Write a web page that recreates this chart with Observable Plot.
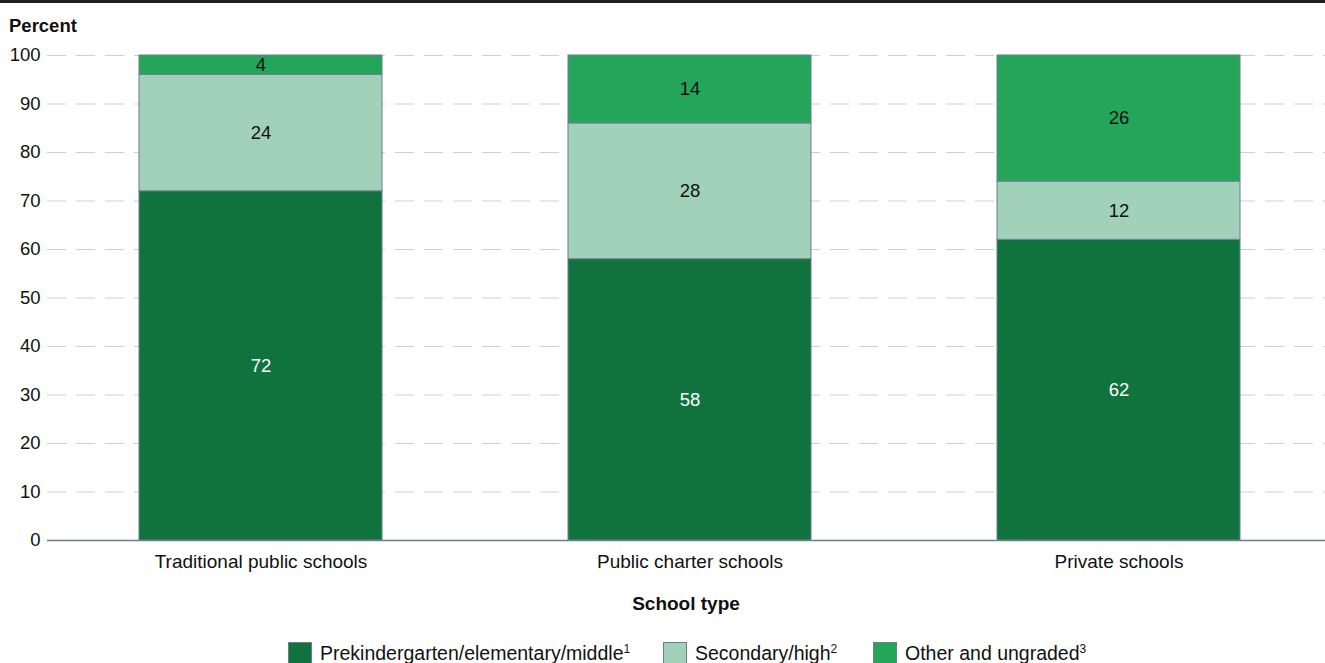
<!DOCTYPE html>
<html>
<head>
<meta charset="utf-8">
<script src="https://cdn.jsdelivr.net/npm/d3@7"></script>
<script src="https://cdn.jsdelivr.net/npm/@observablehq/plot@0.6"></script>
<style>
  body { margin: 0; background: #fff; font-family: "Liberation Sans", Arial, sans-serif; color: #111; }
  #wrap { position: relative; width: 1325px; height: 663px; overflow: hidden; }
  #topbar { position: absolute; left: 0; top: 0; width: 1325px; height: 3px; background: #231f20; }
  #ylabel { position: absolute; left: 9px; top: 15px; font-size: 18.5px; font-weight: bold; }
  #chart { position: absolute; left: 0; top: 0; }
  #xlabel { position: absolute; left: 47px; width: 1278px; top: 593px; text-align: center; font-size: 19px; font-weight: bold; }
  .item { position: absolute; top: 642px; display: flex; align-items: flex-start; font-size: 19.5px; line-height: 22px; }
  .sw { width: 24px; height: 22px; border: 1px solid #6b7f90; margin-right: 8px; box-sizing: border-box; }
  sup { font-size: 12px; vertical-align: 7px; line-height: 0; }
</style>
</head>
<body>
<div id="wrap">
  <div id="topbar"></div>
  <div id="ylabel">Percent</div>
  <div id="chart"></div>
  <div id="xlabel">School type</div>
</div>
<script>
const schoolTypes = ["Traditional public schools", "Public charter schools", "Private schools"];
const levels = ["Prekindergarten/elementary/middle", "Secondary/high", "Other and ungraded"];
const levelNotes = ["1", "2", "3"];
const levelColors = ["#10733e", "#a1d2b9", "#25a55a"];
const prekValues = [72, 58, 62];
const secondaryValues = [24, 28, 12];
const otherValues = [4, 14, 26];
const yTicks = [0, 10, 20, 30, 40, 50, 60, 70, 80, 90, 100];

const seriesValues = [prekValues, secondaryValues, otherValues];
const rows = [];
schoolTypes.forEach((t, i) => {
  let acc = 0;
  levels.forEach((lv, j) => {
    const v = seriesValues[j][i];
    rows.push({type: t, level: lv, value: v, y1: acc, y2: acc + v, mid: acc + v / 2});
    acc += v;
  });
});

const slate = "#6b7f90";
const plot = Plot.plot({
  width: 1325,
  height: 625,
  marginTop: 55,
  marginBottom: 85,
  marginLeft: 47,
  marginRight: 0,
  style: {fontFamily: "'Liberation Sans', Arial, sans-serif", fontSize: "18.5px", color: "#111", background: "transparent"},
  x: {domain: schoolTypes, range: [50.5, 1328.5], paddingInner: 0.434, paddingOuter: 0.206, label: null},
  y: {domain: [0, 100], label: null},
  color: {domain: levels, range: levelColors},
  marks: [
    Plot.ruleY(yTicks.filter(d => d > 0), {stroke: "#cfcfcf", strokeWidth: 1, strokeDasharray: "19,10"}),
    Plot.barY(rows, {x: "type", y1: "y1", y2: "y2", fill: "level", stroke: slate, strokeWidth: 1, inset: 0}),
    Plot.text(rows.filter(d => d.level === levels[0]), {x: "type", y: "mid", text: d => String(d.value), fill: "white", fontSize: 18.5}),
    Plot.text(rows.filter(d => d.level !== levels[0]), {x: "type", y: "mid", text: d => String(d.value), fill: "#111", fontSize: 18.5}),
    Plot.ruleY([0], {stroke: slate, strokeWidth: 1.5}),
    Plot.axisY({ticks: yTicks, tickSize: 0, tickPadding: 7, line: true, stroke: slate, fill: "#111", label: null, fontSize: 18.5}),
    Plot.axisX({tickSize: 0, tickPadding: 14, label: null, fill: "#111", fontSize: 19})
  ]
});
document.getElementById("chart").appendChild(plot);

const legendLefts = [288, 663, 873];
const wrap = document.getElementById("wrap");
levels.forEach((lv, i) => {
  const item = document.createElement("div");
  item.className = "item";
  item.style.left = legendLefts[i] + "px";
  const sw = document.createElement("div");
  sw.className = "sw";
  sw.style.background = levelColors[i];
  const label = document.createElement("span");
  label.innerHTML = lv + "<sup>" + levelNotes[i] + "</sup>";
  item.appendChild(sw);
  item.appendChild(label);
  wrap.appendChild(item);
});
</script>
</body>
</html>
